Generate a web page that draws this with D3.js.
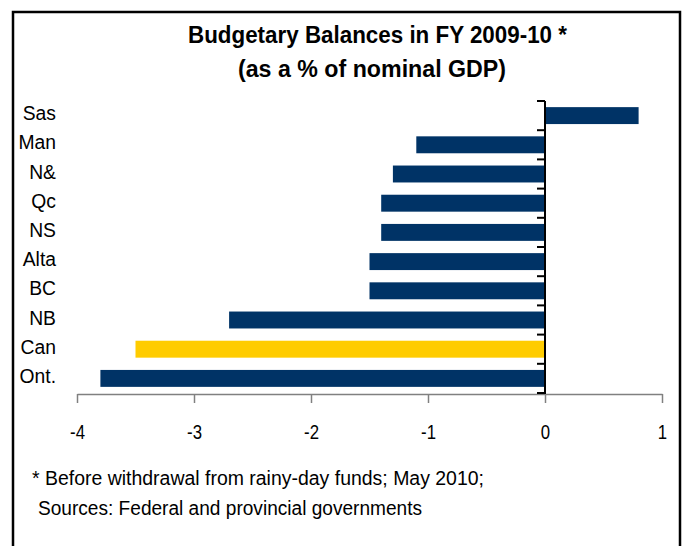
<!DOCTYPE html>
<html>
<head>
<meta charset="utf-8">
<script src="https://cdnjs.cloudflare.com/ajax/libs/d3/7.8.5/d3.min.js"></script>
<style>
  html, body { margin: 0; padding: 0; background: #fff; }
  svg { display: block; }
  text { font-family: "Liberation Sans", Arial, sans-serif; fill: #000; }
</style>
</head>
<body>
<svg id="chart" width="683" height="546"></svg>
<script>
// Provinces and Canada, top to bottom
const provinces = ["Sas", "Man", "N&", "Qc", "NS", "Alta", "BC", "NB", "Can", "Ont."];
// Budgetary balance, % of nominal GDP, FY 2009-10
const balances = [0.8, -1.1, -1.3, -1.4, -1.4, -1.5, -1.5, -2.7, -3.5, -3.8];
const highlighted = ["Can"];
const xTicks = [-4, -3, -2, -1, 0, 1];
const titleLines = ["Budgetary Balances in FY 2009-10 *", "(as a % of nominal GDP)"];
const notes = ["* Before withdrawal from rainy-day funds; May 2010;", "Sources: Federal and provincial governments"];

const svg = d3.select("#chart");
const navy = "#003366", gold = "#FFCC00";
const squeeze = 0.84;      // horizontal condensing of tick numbers
const labelSqueeze = 0.92; // horizontal condensing of category names

// outer frame (open at the bottom)
svg.append("path")
  .attr("d", "M13,548 L13,12 L680,12 L680,548")
  .attr("fill", "none").attr("stroke", "#000").attr("stroke-width", 2.5);

const x = d3.scaleLinear().domain([-4, 1]).range([77, 662]);
const y = d3.scaleBand().domain(provinces).range([101, 393]).paddingInner(0.42).paddingOuter(0.21);

// title
svg.append("g").selectAll("text").data(titleLines).join("text")
  .attr("x", (d, i) => i === 0 ? 188 : 238)
  .attr("y", (d, i) => i === 0 ? 43 : 77)
  .attr("font-size", 23).attr("font-weight", "bold")
  .attr("textLength", (d, i) => i === 0 ? 379 : 268)
  .attr("lengthAdjust", "spacingAndGlyphs")
  .text(d => d);

// bars
const rows = provinces.map((p, i) => ({ p, v: balances[i] }));
svg.append("g").selectAll("rect").data(rows).join("rect")
  .attr("x", d => x(Math.min(0, d.v)))
  .attr("width", d => Math.abs(x(d.v) - x(0)))
  .attr("y", d => y(d.p))
  .attr("height", y.bandwidth())
  .attr("fill", d => highlighted.includes(d.p) ? gold : navy);

// x axis (grey) with ticks below
const xAxis = svg.append("g").attr("transform", "translate(0,394)")
  .call(d3.axisBottom(x).tickValues(xTicks).tickSize(9).tickFormat(d => String(d)).tickSizeOuter(0));
xAxis.select(".domain").attr("stroke", "#808080").attr("stroke-width", 1.5);
xAxis.selectAll(".tick line").attr("stroke", "#808080").attr("stroke-width", 1.5);
xAxis.selectAll(".tick text")
  .attr("y", 0).attr("dy", 0)
  .attr("transform", `translate(0,45) scale(${squeeze},1)`)
  .attr("font-size", 20).attr("fill", "#000")
  .attr("font-family", "\"Liberation Sans\", Arial, sans-serif");

// y axis at zero with category boundary ticks
const yAxisG = svg.append("g").attr("transform", `translate(${x(0)},0)`);
yAxisG.append("line").attr("x1", 0).attr("x2", 0).attr("y1", 101).attr("y2", 394)
  .attr("stroke", "#000").attr("stroke-width", 2);
const [y0, y1] = y.range();
const bounds = d3.range(provinces.length + 1).map(i => y0 + i * (y1 - y0) / provinces.length);
yAxisG.selectAll("line.tk").data(bounds).join("line").attr("class", "tk")
  .attr("x1", -8).attr("x2", 0).attr("y1", d => d).attr("y2", d => d)
  .attr("stroke", "#000").attr("stroke-width", 2);

// category labels on the left
svg.append("g").selectAll("text").data(provinces).join("text")
  .attr("transform", d => `translate(56,${y(d) + y.bandwidth() / 2 + 4.5}) scale(${labelSqueeze},1)`)
  .attr("text-anchor", "end")
  .attr("font-size", 21)
  .text(d => d);

// footnotes
svg.append("g").selectAll("text").data(notes).join("text")
  .attr("x", (d, i) => i === 0 ? 32 : 38)
  .attr("y", (d, i) => i === 0 ? 485 : 515)
  .attr("font-size", 20)
  .attr("textLength", (d, i) => i === 0 ? 452 : 384)
  .attr("lengthAdjust", "spacingAndGlyphs")
  .text(d => d);
</script>
</body>
</html>
